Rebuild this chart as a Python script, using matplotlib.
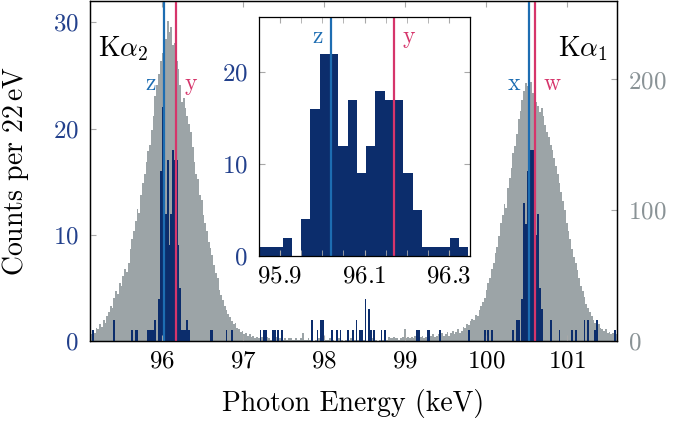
import matplotlib
matplotlib.use("Agg")
import matplotlib.pyplot as plt
import numpy as np
from matplotlib.ticker import MultipleLocator

# histogram bins: 22 eV wide
bin_start = 95.092
bin_width = 0.022

# reference spectrum (right axis, grey)
gray_counts = [
    7, 5, 8, 6, 10, 9, 13, 11, 16, 14,
    19, 22, 27, 25, 33, 38, 36, 44, 42, 50,
    55, 53, 60, 70, 78, 84, 92, 101, 98, 112,
    121, 128, 137, 145, 150, 161, 172, 187, 196, 204,
    214, 220, 238, 231, 245, 236, 240, 226, 228, 214,
    208, 196, 183, 186, 178, 172, 166, 160, 148, 137,
    128, 124, 112, 108, 96, 90, 84, 76, 71, 66,
    58, 52, 48, 39, 35, 31, 27, 24, 21, 18,
    15, 13, 14, 10, 9, 7, 8, 5, 6, 4,
    5, 3, 4, 2, 3, 2,
    2, 3, 1, 2, 3, 2, 1, 2, 2, 3,
    1, 2, 2, 1, 2, 1, 2, 2, 1, 1,
    2, 1, 1, 2, 6, 1, 1, 2, 1, 1,
    0, 1, 1, 2, 1, 1, 0, 1, 1, 2,
    1, 1, 0, 1, 2, 1, 1, 0, 1, 1,
    1, 2, 1, 1, 0, 1, 2, 1, 1, 1,
    0, 1, 1, 2, 1, 1, 0, 1, 1, 1,
    2, 1, 3, 2, 2, 3, 2, 2, 1, 2,
    3, 9, 2, 3, 2, 3, 2, 4, 3, 3,
    3, 4, 2, 3, 4, 3, 4, 5, 3, 4,
    5, 3, 6, 4,
    5, 7, 4, 6, 8, 5, 7, 9, 6, 8,
    11, 10, 13, 12, 15, 17, 16, 20, 19, 24,
    27, 30, 33, 39, 44, 48, 55, 60, 67, 72,
    80, 90, 96, 105, 102, 117, 125, 132, 144, 149,
    158, 170, 176, 184, 191, 197, 195, 201, 198, 190,
    186, 183, 180, 175, 178, 172, 165, 160, 156, 150,
    146, 140, 134, 128, 121, 114, 107, 100, 90, 84,
    78, 70, 64, 60, 54, 48, 42, 38, 34, 28,
    25, 22, 19, 16, 14, 12, 13, 10, 9, 8,
    9, 6, 7, 5, 6, 4, 5,
]

# measured spectrum (left axis, navy), non-empty bins only: bin centre (keV) and counts
blue_energy = [
    95.147, 95.411, 95.631, 95.675, 95.697, 95.829,
    95.851, 95.873, 95.895, 95.917, 95.961, 95.983, 96.005, 96.027, 96.049,
    96.071, 96.093, 96.115, 96.137, 96.159, 96.181, 96.203, 96.225, 96.247,
    96.269, 96.291, 96.313, 96.335,
    96.599, 96.621, 96.797, 96.863,
    97.215, 97.259, 97.281, 97.369, 97.391, 97.435, 97.479,
    97.853, 97.919, 97.963, 97.985, 98.095, 98.161, 98.205, 98.293,
    98.359, 98.403, 98.447, 98.469, 98.513, 98.557, 98.579, 98.623,
    98.711, 98.755, 99.151, 99.173, 99.283, 99.305, 99.437,
    99.789, 99.987, 100.031, 100.075, 100.339, 100.383, 100.405,
    100.449, 100.471, 100.493, 100.515, 100.537, 100.559, 100.581,
    100.603, 100.625, 100.647, 100.669, 100.691,
    100.801, 100.911, 101.065, 101.109, 101.219, 101.263, 101.351,
    101.373, 101.593,
]
blue_counts = [
    1, 2, 1, 1, 1, 1,
    1, 1, 1, 2, 4, 16, 22, 22, 12,
    17, 9, 12, 18, 17, 17, 9, 5, 1,
    1, 1, 2, 1,
    1, 1, 1, 1,
    1, 1, 1, 1, 1, 1, 1,
    2, 1, 2, 2, 1, 1, 1, 1,
    1, 2, 1, 1, 4, 3, 1, 1,
    1, 1, 1, 1, 1, 1, 1,
    1, 1, 1, 1, 1, 2, 2,
    4, 13, 11, 16, 19, 18, 18,
    15, 10, 12, 5, 3,
    2, 1, 1, 1, 2, 2, 1,
    2, 1,
]

line_names = ["z", "y", "x", "w"]
line_energy = [96.02, 96.17, 100.53, 100.61]

navy = "#0c2d6c"
navy_txt = "#22408c"
grey = "#9ca4a7"
grey_txt = "#8a9396"
blue_line = "#1d6db2"
red_line = "#d6356b"
line_colors = [blue_line, red_line, blue_line, red_line]
tick_col = "#a8a8a8"

plt.rcParams.update({
    "font.family": "serif",
    "font.serif": ["cmr10"],
    "mathtext.fontset": "cm",
    "axes.formatter.use_mathtext": True,
    "font.size": 18,
    "axes.linewidth": 0.9,
})

fig = plt.figure(figsize=(6.78, 4.25), dpi=100)
ax = fig.add_axes([90 / 678, 1 - 341 / 425, 527 / 678, 340 / 425])
ax2 = ax.twinx()
ax.set_zorder(ax2.get_zorder() + 1)
ax.patch.set_visible(False)

edges = bin_start + bin_width * np.arange(len(gray_counts) + 1)
ax2.bar(edges[:-1], gray_counts, width=bin_width, align="edge", color=grey, linewidth=0)
ax.bar(blue_energy, blue_counts, width=bin_width, color=navy, linewidth=0)

for name, e, c in zip(line_names, line_energy, line_colors):
    ax.axvline(e, color=c, lw=1.6)
    left = name in ("z", "x")
    ax.annotate(name, xy=(e, 0.755), xycoords=("data", "axes fraction"),
                xytext=(-6 if left else 6, 0), textcoords="offset points",
                ha="right" if left else "left", va="center", color=c, fontsize=17)

ax.text(95.52, 0.86, r"K$\alpha_2$", transform=ax.get_xaxis_transform(),
        ha="center", va="center", fontsize=20)
ax.text(101.2, 0.86, r"K$\alpha_1$", transform=ax.get_xaxis_transform(),
        ha="center", va="center", fontsize=20)

ax.set_xlim(95.11, 101.62)
ax.set_ylim(0, 32)
ax2.set_ylim(0, 260)
ax.set_xticks([96, 97, 98, 99, 100, 101])
ax.set_yticks([0, 10, 20, 30])
ax2.set_yticks([0, 100, 200])
ax.tick_params(axis="x", direction="in", color=tick_col, length=4, pad=7, top=True)
ax.tick_params(axis="y", direction="in", color=tick_col, length=4, pad=8, labelcolor=navy_txt)
ax2.tick_params(axis="y", direction="in", color=tick_col, length=4, pad=8, labelcolor=grey_txt)
ax.set_xlabel("Photon Energy (keV)", fontsize=20)
ax.xaxis.set_label_coords(0.5, -0.14)
ax.set_ylabel(r"Counts per 22$\,$eV", fontsize=20)
ax.yaxis.set_label_coords(-0.112, 0.5)

# inset: zoom on K alpha 2
ins = fig.add_axes([259 / 678, 1 - 256 / 425, 211 / 678, 239 / 425])
ins.set_zorder(ax.get_zorder() + 1)
ins.bar(blue_energy, blue_counts, width=bin_width, color=navy, linewidth=0)
for name, e, c in zip(line_names[:2], line_energy[:2], line_colors[:2]):
    ins.axvline(e, color=c, lw=1.6)
    left = name == "z"
    ins.annotate(name, xy=(e, 0.915), xycoords=("data", "axes fraction"),
                 xytext=(-6 if left else 6, 0), textcoords="offset points",
                 ha="right" if left else "left", va="center", color=c, fontsize=17)
ins.set_xlim(95.85, 96.35)
ins.set_ylim(0, 26)
ins.set_xticks([95.9, 96.1, 96.3])
ins.xaxis.set_minor_locator(MultipleLocator(0.05))
ins.set_yticks([0, 10, 20])
ins.tick_params(which="both", direction="in", color=tick_col, length=4, top=True, right=True)
ins.tick_params(axis="x", pad=7)
ins.tick_params(axis="y", pad=8, labelcolor=navy_txt)

fig.savefig("out.png", dpi=100)
